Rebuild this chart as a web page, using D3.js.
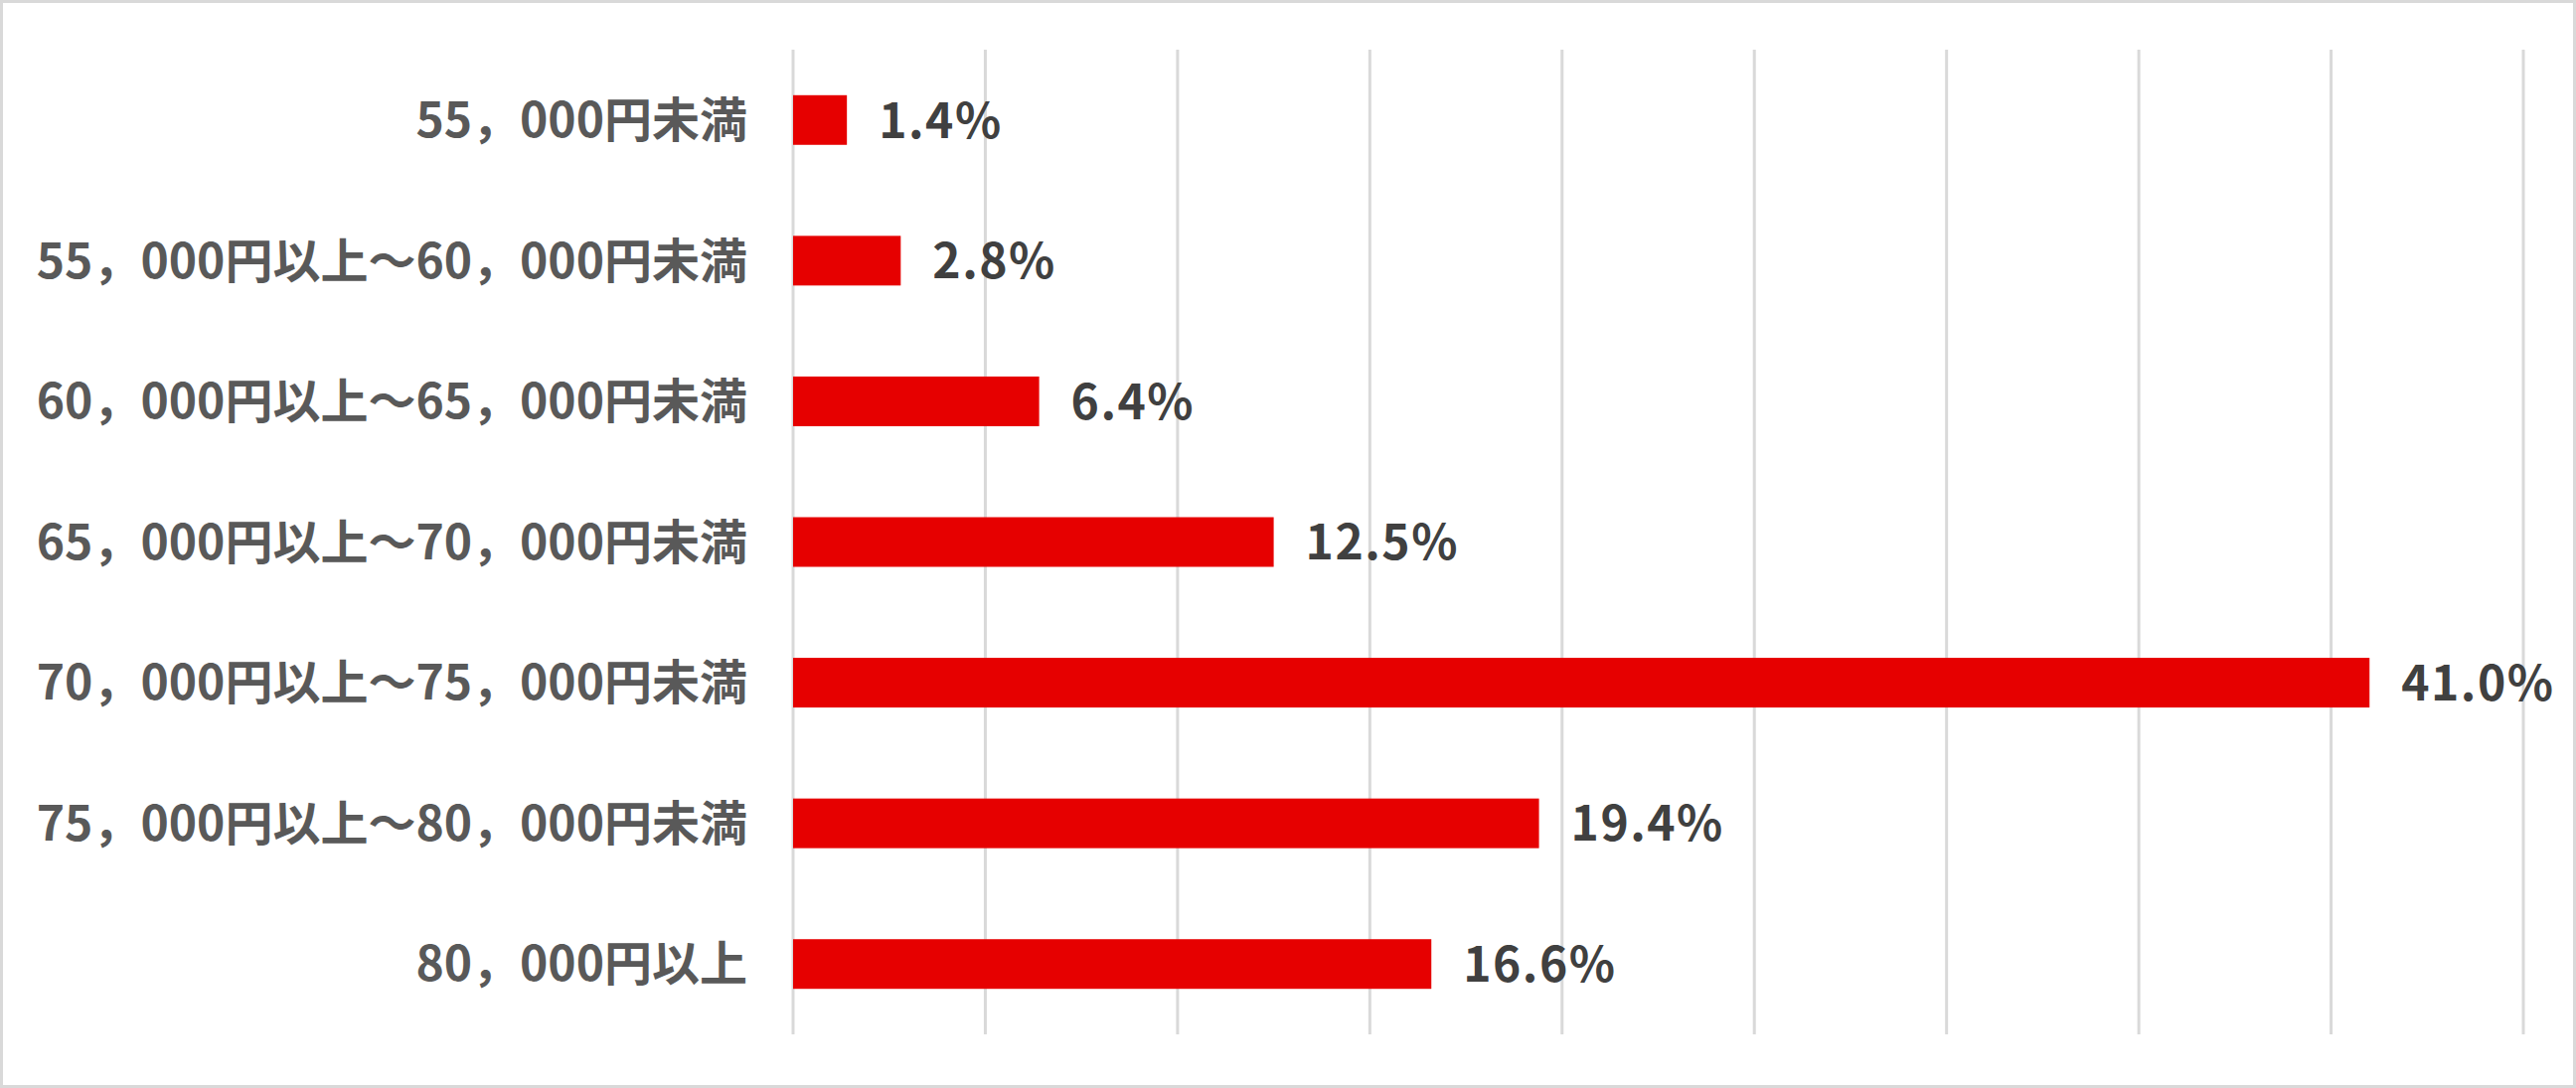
<!DOCTYPE html>
<html lang="ja">
<head>
  <meta charset="UTF-8">
  <title>金額分布</title>
  <script src="https://d3js.org/d3.v7.min.js"></script>
  <style>
    body {
      margin: 0;
      background: #fff;
    }
    svg {
      display: block;
    }
    .grid line {
      stroke: #d9d9d9;
      stroke-width: 3;
    }
    .cat {
      fill: #595959;
      font-family: 'Noto Sans CJK JP', 'Noto Sans', sans-serif;
      font-weight: bold;
      font-size: 48px;
    }
    .val {
      fill: #404040;
      font-family: 'Noto Sans CJK JP', 'Noto Sans', sans-serif;
      font-weight: bold;
      font-size: 48px;
      letter-spacing: 1.5px;
    }
  </style>
</head>
<body>
<svg id="chart"></svg>
<script>
const categories = [
  "55，000円未満",
  "55，000円以上～60，000円未満",
  "60，000円以上～65，000円未満",
  "65，000円以上～70，000円未満",
  "70，000円以上～75，000円未満",
  "75，000円以上～80，000円未満",
  "80，000円以上"
];
const values = [1.4, 2.8, 6.4, 12.5, 41.0, 19.4, 16.6];
const gridTicks = [0, 5, 10, 15, 20, 25, 30, 35, 40, 45];

const W = 2592, H = 1095;
const svg = d3.select("#chart").attr("width", W).attr("height", H);

// outer frame
svg.append("rect")
  .attr("x", 1.5).attr("y", 1.5)
  .attr("width", W - 3).attr("height", H - 3)
  .attr("fill", "#fff")
  .attr("stroke", "#d9d9d9")
  .attr("stroke-width", 3);

const x = d3.scaleLinear().domain([0, 45]).range([798, 2539]);
const y = d3.scaleBand().domain(categories).range([50, 1041]);
const barH = y.bandwidth() * 0.353;

// vertical gridlines
svg.append("g").attr("class", "grid")
  .selectAll("line")
  .data(gridTicks)
  .join("line")
  .attr("x1", d => x(d)).attr("x2", d => x(d))
  .attr("y1", 50).attr("y2", 1041);

const data = categories.map((c, i) => ({cat: c, value: values[i]}));

svg.append("g")
  .selectAll("rect")
  .data(data)
  .join("rect")
  .attr("x", x(0))
  .attr("y", d => y(d.cat) + y.bandwidth() / 2 - barH / 2)
  .attr("width", d => x(d.value) - x(0))
  .attr("height", barH)
  .attr("fill", "#e60000");

// category labels
svg.append("g")
  .selectAll("text")
  .data(data)
  .join("text")
  .attr("class", "cat")
  .attr("x", x(0) - 46)
  .attr("y", d => y(d.cat) + y.bandwidth() / 2)
  .attr("dy", "0.36em")
  .attr("text-anchor", "end")
  .text(d => d.cat);

// value labels
svg.append("g")
  .selectAll("text")
  .data(data)
  .join("text")
  .attr("class", "val")
  .attr("x", d => x(d.value) + 32)
  .attr("y", d => y(d.cat) + y.bandwidth() / 2)
  .attr("dy", "0.37em")
  .text(d => d.value.toFixed(1) + "%");
</script>
</body>
</html>
